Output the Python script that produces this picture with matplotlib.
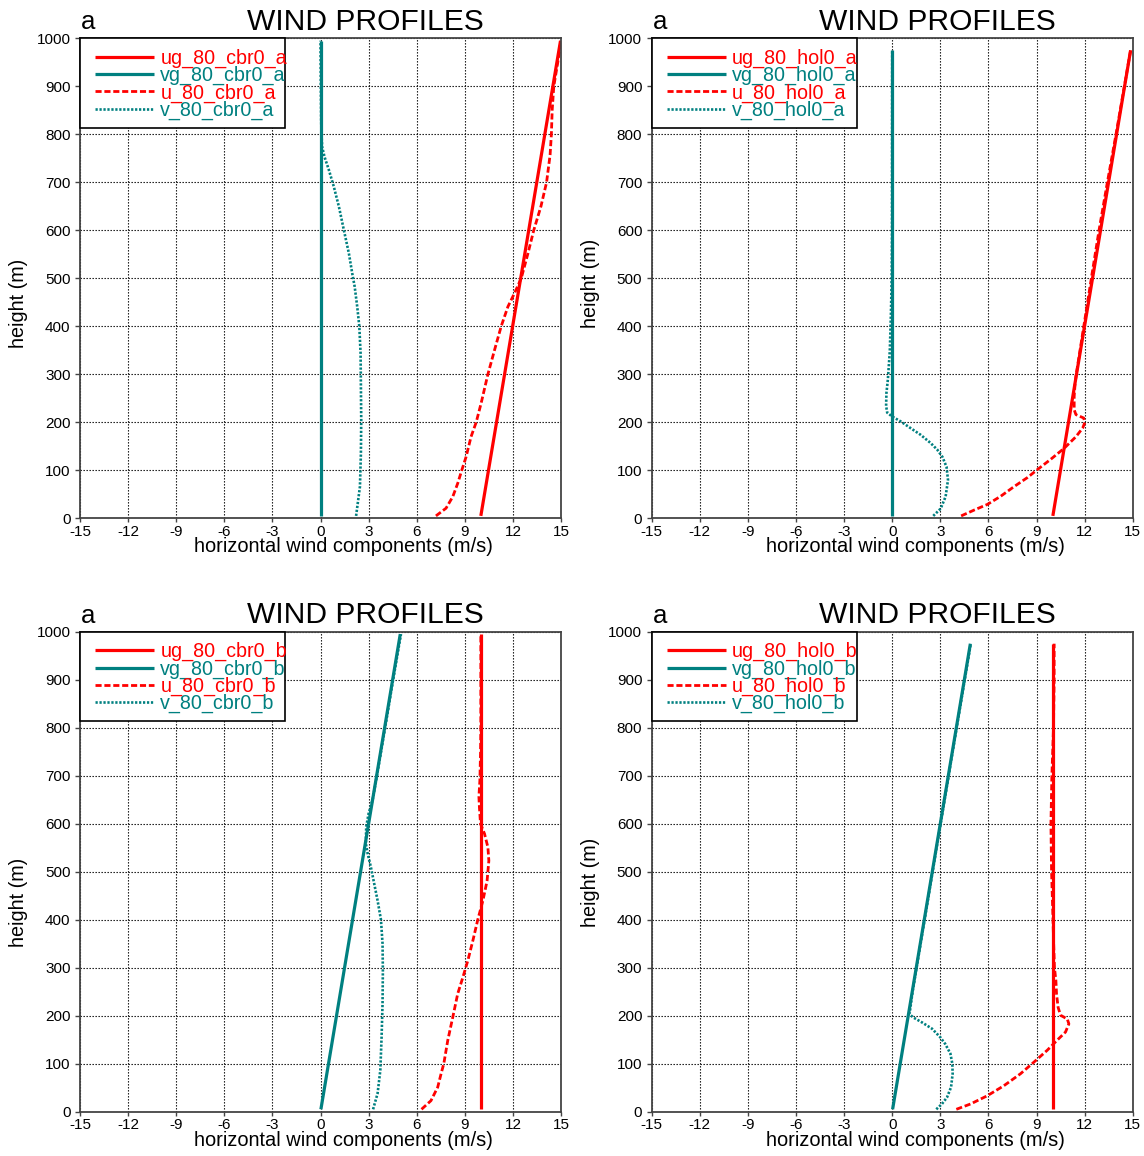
import matplotlib
matplotlib.use("Agg")
import matplotlib.pyplot as plt
from matplotlib.patches import Rectangle

plt.rcParams['font.family'] = ['Liberation Sans', 'DejaVu Sans']

RED = '#ff0000'
TEAL = '#008080'

# ---------------- data ----------------
xticks = [-15, -12, -9, -6, -3, 0, 3, 6, 9, 12, 15]
yticks = [0, 100, 200, 300, 400, 500, 600, 700, 800, 900, 1000]

# panel a: cbr0_a
a_zg = [5, 995]
a_ug = [10.0, 14.97]
a_vg = [0.0, 0.0]
a_zu = [5, 21, 45, 73, 100, 128, 170, 200, 240, 300, 350, 400, 441, 469, 500,
        552, 600, 650, 700, 757, 800, 850, 900, 950, 995]
a_u = [7.2, 7.83, 8.25, 8.56, 8.81, 9.08, 9.39, 9.71, 10.02, 10.44, 10.85, 11.27,
       11.69, 12.1, 12.52, 12.94, 13.3, 13.75, 14.1, 14.32, 14.4, 14.45, 14.55,
       14.8, 15.0]
a_zv = [5, 66, 135, 205, 274, 344, 400, 441, 483, 510, 552, 600, 649, 691, 726,
        753, 774, 802, 830, 900, 995]
a_v = [2.22, 2.46, 2.52, 2.54, 2.52, 2.50, 2.42, 2.29, 2.13, 1.98, 1.77, 1.46,
       1.15, 0.83, 0.52, 0.25, 0.10, 0.06, 0.04, 0.02, 0.0]

# panel b: hol0_a
b_zg = [5, 975]
b_ug = [10.02, 14.87]
b_vg = [0.0, 0.0]
b_zu = [5, 17, 29, 46, 66, 85, 100, 123, 146, 170, 188, 200, 209, 216, 226, 254,
        282, 300, 400, 500, 600, 700, 800, 900, 975]
b_u = [4.3, 5.1, 5.94, 6.77, 7.6, 8.44, 9.0, 9.89, 10.73, 11.46, 11.88, 12.02,
       11.94, 11.46, 11.35, 11.35, 11.41, 11.48, 11.95, 12.42, 12.9, 13.42,
       13.96, 14.48, 14.87]
b_zv = [5, 20, 45, 80, 107, 128, 143, 157, 174, 188, 202, 212, 220, 234, 261,
        289, 348, 425, 502, 600, 975]
b_v = [2.56, 3.02, 3.33, 3.48, 3.39, 3.13, 2.81, 2.39, 1.77, 1.14, 0.52, 0.0,
       -0.31, -0.38, -0.36, -0.27, -0.15, -0.08, -0.03, -0.01, 0.0]

# panel c: cbr0_b
c_zg = [5, 995]
c_ug = [10.0, 10.0]
c_vg = [0.025, 4.975]
c_zu = [5, 23, 51, 79, 100, 149, 200, 246, 280, 315, 356, 400, 440, 481, 523,
        551, 579, 600, 635, 656, 690, 746, 800, 995]
c_u = [6.3, 6.89, 7.31, 7.52, 7.69, 7.94, 8.27, 8.56, 8.88, 9.19, 9.5, 9.81,
       10.13, 10.39, 10.5, 10.44, 10.23, 9.98, 9.91, 9.88, 9.94, 9.98, 10.0, 10.0]
c_zv = [5, 38, 86, 155, 225, 294, 350, 400, 440, 475, 510, 538, 558, 593, 621,
        650, 700, 800, 900, 995]
c_v = [3.28, 3.56, 3.73, 3.81, 3.87, 3.89, 3.87, 3.77, 3.56, 3.35, 3.14, 2.94,
       2.83, 2.85, 3.0, 3.25, 3.52, 4.03, 4.53, 5.02]

# panel d: hol0_b
d_zg = [5, 975]
d_ug = [10.0, 10.0]
d_vg = [0.025, 4.875]
d_zu = [5, 16, 33, 54, 79, 103, 128, 149, 166, 183, 193, 201, 217, 245, 273,
        300, 350, 400, 500, 600, 700, 800, 900, 975]
d_u = [4.0, 4.88, 5.92, 6.96, 8.0, 8.83, 9.67, 10.29, 10.81, 11.02, 10.92, 10.5,
       10.35, 10.25, 10.21, 10.12, 10.07, 10.03, 9.94, 9.9, 9.96, 10.06, 10.1, 10.1]
d_zv = [5, 16, 30, 51, 79, 100, 121, 141, 155, 173, 186, 196, 203, 250, 400,
        600, 800, 975]
d_v = [2.75, 3.1, 3.42, 3.67, 3.77, 3.75, 3.63, 3.31, 3.0, 2.48, 1.86, 1.33,
       1.08, 1.27, 2.02, 3.02, 4.02, 4.9]

panels = [
    dict(tag='cbr0_a', zg=a_zg, ug=a_ug, vg=a_vg, zu=a_zu, u=a_u, zv=a_zv, v=a_v,
         pos=(80, 38.3), ylab=0.4485),
    dict(tag='hol0_a', zg=b_zg, ug=b_ug, vg=b_vg, zu=b_zu, u=b_u, zv=b_zv, v=b_v,
         pos=(651.7, 38.3), ylab=0.49),
    dict(tag='cbr0_b', zg=c_zg, ug=c_ug, vg=c_vg, zu=c_zu, u=c_u, zv=c_zv, v=c_v,
         pos=(80, 631.7), ylab=0.4356),
    dict(tag='hol0_b', zg=d_zg, ug=d_ug, vg=d_vg, zu=d_zu, u=d_u, zv=d_zv, v=d_v,
         pos=(651.7, 631.7), ylab=0.477),
]

W, H = 1144, 1156
AW, AH = 481, 480
fig = plt.figure(figsize=(W / 100, H / 100), dpi=100)

for p in panels:
    left, top = p['pos']
    ax = fig.add_axes([left / W, (H - top - AH) / H, AW / W, AH / H])
    tag = p['tag']
    l1, = ax.plot(p['ug'], p['zg'], color=RED, lw=2.3, ls='-',
                  label='ug_80_' + tag, solid_capstyle='butt')
    l2, = ax.plot(p['vg'], p['zg'], color=TEAL, lw=2.3, ls='-',
                  label='vg_80_' + tag, solid_capstyle='butt')
    l3, = ax.plot(p['u'], p['zu'], color=RED, lw=2.0, ls=(0, (2.2, 1.0)),
                  label='u_80_' + tag)
    l4, = ax.plot(p['v'], p['zv'], color=TEAL, lw=1.9, ls=(0, (0.85, 0.65)),
                  label='v_80_' + tag)

    ax.set_xlim(-15, 15)
    ax.set_ylim(0, 1000)
    ax.set_xticks(xticks)
    ax.set_xticklabels([str(t) for t in xticks])
    ax.set_yticks(yticks)
    ax.set_yticklabels([str(t) for t in yticks])
    ax.grid(True, color='black', lw=0.8, ls=(0, (1.2, 1.5)))
    for s in ax.spines.values():
        s.set_color('#444444')
        s.set_linewidth(1.3)
    ax.tick_params(axis='y', direction='out', length=3.5, width=1.0,
                   color='#444444', pad=3.3, labelsize=11)
    ax.tick_params(axis='x', direction='out', length=3.0, width=1.0,
                   color='#444444', pad=1.5, labelsize=11)

    ax.set_xlabel('horizontal wind components (m/s)', fontsize=14.4, va='baseline')
    ax.xaxis.set_label_coords(0.548, -34.0 / AH)
    ax.set_ylabel('height (m)', fontsize=14.2)
    ax.yaxis.set_label_coords(-0.108, p['ylab'])

    ax.text(0.593, 1 + 8.5 / AH, 'WIND PROFILES', fontsize=21.6, ha='center',
            va='baseline', transform=ax.transAxes)
    ax.text(0.002, 1 + 9 / AH, 'a', fontsize=18.5, ha='left', va='baseline',
            transform=ax.transAxes)

    rect = Rectangle((0, 1 - 89.3 / AH), 205 / AW, 89.3 / AH,
                     transform=ax.transAxes, facecolor='white',
                     edgecolor='black', lw=1.2, zorder=4, clip_on=False)
    ax.add_patch(rect)
    ax.legend(handles=[l1, l2, l3, l4], loc='upper left',
              bbox_to_anchor=(14.9 / AW, 1 - 10.5 / AH),
              bbox_transform=ax.transAxes, frameon=False, borderpad=0,
              borderaxespad=0, handlelength=3.0, handletextpad=0.32,
              labelspacing=-0.1, fontsize=14.2,
              labelcolor=[RED, TEAL, RED, TEAL])

fig.savefig('out.png', dpi=100)
